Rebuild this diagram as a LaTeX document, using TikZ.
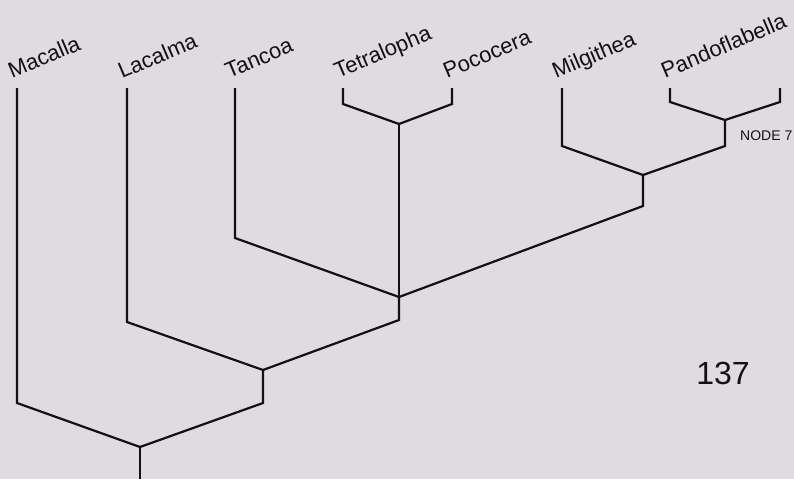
\documentclass[tikz,border=0pt]{standalone}
\usepackage{fontspec}
\setmainfont{Liberation Sans}
\definecolor{bgcol}{RGB}{222,220,225}
\definecolor{inkcol}{RGB}{18,16,18}
\begin{document}
\begin{tikzpicture}[x=1pt,y=-1pt,
  branch/.style={draw=inkcol,line width=2.2pt,line join=miter},
  taxon/.style={anchor=base west,rotate=23,inner sep=0pt,text=inkcol,font=\fontsize{22}{25}\selectfont},
  smalllab/.style={anchor=base west,inner sep=0pt,text=inkcol,font=\fontsize{14}{16}\selectfont},
  biglab/.style={anchor=center,inner sep=0pt,text=inkcol,font=\fontsize{32}{36}\selectfont}]
\fill[bgcol] (0,0) rectangle (794,479);
\useasboundingbox (0,0) rectangle (794,479);
% internal nodes
\coordinate (root) at (140,447);
\coordinate (base) at (140,479);
\coordinate (nB) at (263,370);
\coordinate (nC) at (399,297);
\coordinate (nD) at (399,124);
\coordinate (nE) at (643,175);
\coordinate (nF) at (725,120);
% leaf tops
\coordinate (tMac) at (17,88);
\coordinate (tLac) at (127,88);
\coordinate (tTan) at (235,88);
\coordinate (tTet) at (343,88);
\coordinate (tPoc) at (452,88);
\coordinate (tMil) at (562,88);
\coordinate (tPan) at (670,88);
\coordinate (tX) at (780,88);
% branches
\draw[branch] (base) -- (root);
\draw[branch] (root) -- (17,403) -- (tMac);
\draw[branch] (root) -- (263,403) -- (nB);
\draw[branch] (nB) -- (127,322) -- (tLac);
\draw[branch] (nB) -- (399,320) -- (nC);
\draw[branch] (nC) -- (235,238) -- (tTan);
\draw[branch] (nC) -- (nD);
\draw[branch] (nC) -- (643,206) -- (nE);
\draw[branch] (nD) -- (343,104) -- (tTet);
\draw[branch] (nD) -- (452,104) -- (tPoc);
\draw[branch] (nE) -- (562,146) -- (tMil);
\draw[branch] (nE) -- (725,146) -- (nF);
\draw[branch] (nF) -- (670,102) -- (tPan);
\draw[branch] (nF) -- (780,102) -- (tX);
% labels
\node[taxon] (lMac) at (12,79) {Macalla};
\node[taxon] (lLac) at (122,79) {Lacalma};
\node[taxon] (lTan) at (229,79) {Tancoa};
\node[taxon] (lTet) at (338,79) {Tetralopha};
\node[taxon] (lPoc) at (447,79) {Pococera};
\node[taxon] (lMil) at (556,79) {Milgithea};
\node[taxon] (lPan) at (665,79) {Pandoflabella};
\node[smalllab] (lN7) at (740,140) {NODE 7};
\node[biglab] (lNum) at (723,373) {137};
\end{tikzpicture}
\end{document}
